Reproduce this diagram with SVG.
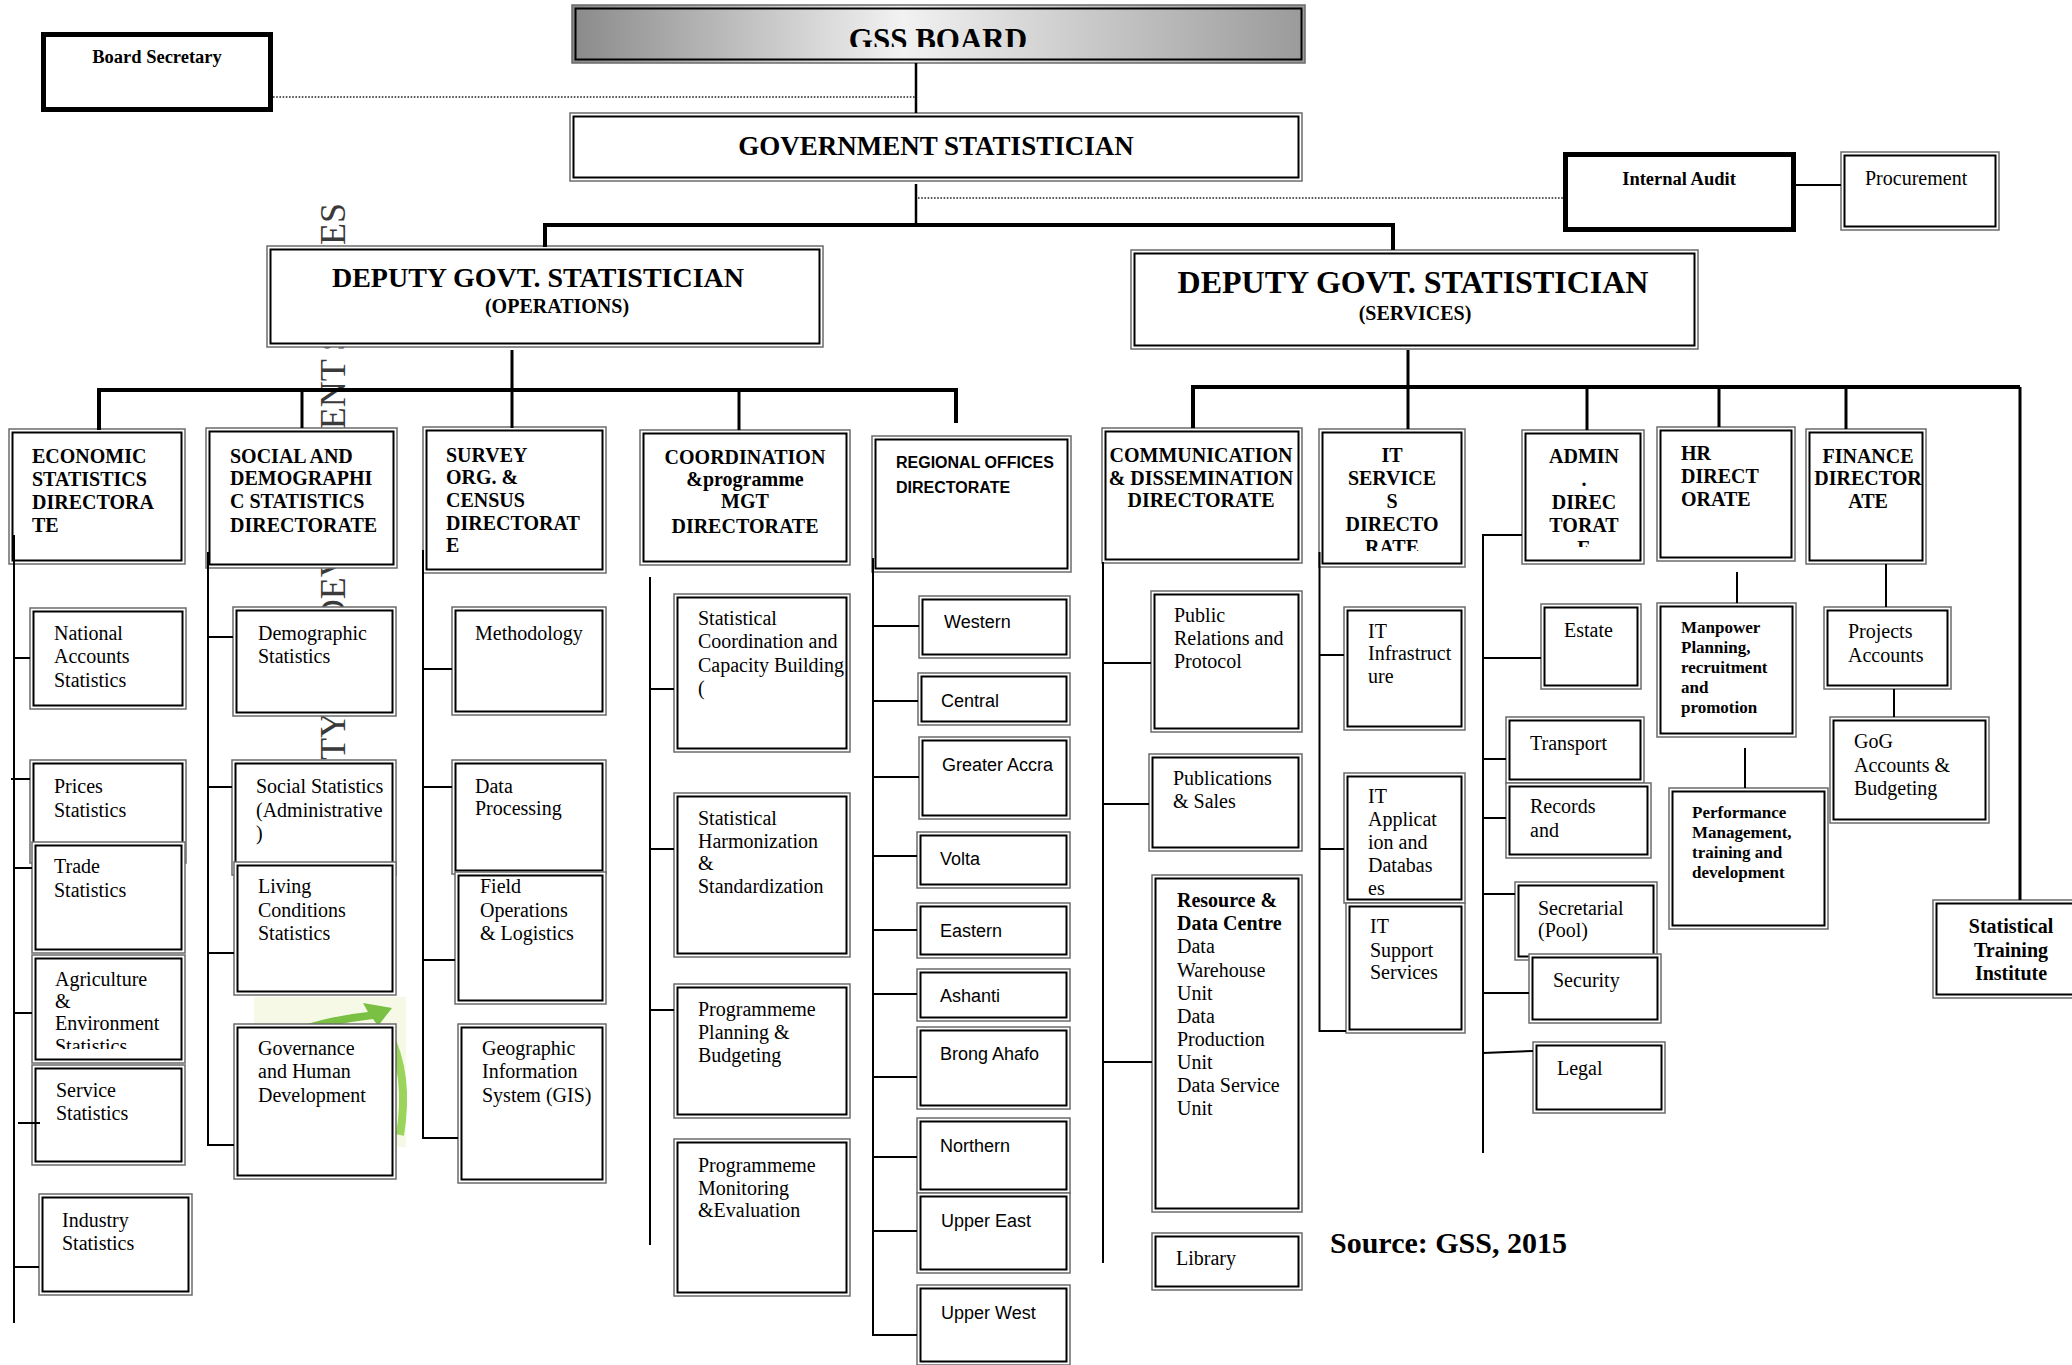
<svg xmlns="http://www.w3.org/2000/svg" width="2072" height="1365" viewBox="0 0 2072 1365">
<defs>
<linearGradient id="gBoard" x1="0" y1="0" x2="1" y2="0">
<stop offset="0" stop-color="#8a8a8a"/>
<stop offset="0.45" stop-color="#f2f2f2"/>
<stop offset="1" stop-color="#9a9a9a"/>
</linearGradient>
<clipPath id="clipBoard"><rect x="572" y="0" width="733" height="47"/></clipPath>
<clipPath id="clipIT"><rect x="1319" y="429" width="146" height="122"/></clipPath>
<clipPath id="clipAdmin"><rect x="1522" y="430" width="122" height="117"/></clipPath>
<clipPath id="clipAgri"><rect x="32" y="955" width="153" height="94"/></clipPath>
<style>
.o{fill:#fff;stroke:#6b6b6b;stroke-width:1.5}
.i{fill:none;stroke:#000;stroke-width:2}
.thick{fill:#fff;stroke:#000;stroke-width:5}
.t{font-family:"Liberation Serif","Times New Roman",serif;font-size:20px;fill:#000}
.b{font-weight:bold}
.s{font-family:"Liberation Sans",Arial,sans-serif;font-size:18px;fill:#000}
.c{text-anchor:middle}
.hr{font-size:17px}
.ln{stroke:#000;stroke-width:2;fill:none}
.bar{stroke:#000;stroke-width:4;fill:none}
.dot{stroke:#222;stroke-width:1.6;stroke-dasharray:1.6 1.6;fill:none}
</style>
</defs>
<rect width="2072" height="1365" fill="#fff"/>

<!-- watermark -->
<g id="watermark">
<text class="t" style="font-size:36px;fill:#3a3a3a;text-anchor:end" transform="translate(345,203) rotate(-90)">UNIVERSITY FOR DEVELOPMENT STUDIES</text>
<rect x="254" y="997" width="152" height="150" fill="#f6f9e6"/>
<path d="M284,1032 Q326,1016 368,1012 L363,1003 L392,1008 L378,1026 L373,1019 Q330,1024 292,1036 Z" fill="#79c043"/>
<path d="M388,1032 Q410,1075 400,1135" stroke="#9bd45a" stroke-width="8" fill="none"/>
</g>

<!-- top level -->
<g id="gss_board">
<rect x="572" y="5" width="733" height="58" fill="url(#gBoard)" stroke="#6b6b6b" stroke-width="1.5"/>
<rect class="i" x="575.5" y="8.5" width="726" height="51"/>
<text class="t b c" x="938" y="50" style="font-size:31px" clip-path="url(#clipBoard)">GSS BOARD</text>
</g>
<g id="board_secretary">
<rect class="thick" x="43.5" y="34.5" width="227" height="75"/>
<text class="t b c" x="157" y="63" style="font-size:18.5px">Board Secretary</text>
</g>
<g id="government_statistician">
<rect class="o" x="570" y="113" width="732" height="68"/>
<rect class="i" x="573.5" y="116.5" width="725" height="61"/>
<text class="t b c" x="936" y="155" style="font-size:27px">GOVERNMENT STATISTICIAN</text>
</g>
<g id="internal_audit">
<rect class="thick" x="1565.5" y="154.5" width="228" height="75"/>
<text class="t b c" x="1679" y="185" style="font-size:18.5px">Internal Audit</text>
</g>
<g id="procurement">
<rect class="o" x="1841" y="152" width="158" height="78"/>
<rect class="i" x="1844.5" y="155.5" width="151" height="71"/>
<text class="t" x="1865" y="185">Procurement</text>
</g>
<g id="deputy_operations">
<rect class="o" x="267" y="246" width="556" height="101"/>
<rect class="i" x="270.5" y="249.5" width="549" height="94"/>
<text class="t b c" x="538" y="287" style="font-size:28px">DEPUTY GOVT. STATISTICIAN</text>
<text class="t b c" x="557" y="313">(OPERATIONS)</text>
</g>
<g id="deputy_services">
<rect class="o" x="1131" y="250" width="567" height="99"/>
<rect class="i" x="1134.5" y="253.5" width="560" height="92"/>
<text class="t b c" x="1413" y="293" style="font-size:32px">DEPUTY GOVT. STATISTICIAN</text>
<text class="t b c" x="1415" y="320">(SERVICES)</text>
</g>

<!-- directorates -->
<g id="economic_dir">
<rect class="o" x="9" y="429" width="176" height="135"/>
<rect class="i" x="12.5" y="432.5" width="169" height="128"/>
<text class="t b"><tspan x="32" y="463">ECONOMIC</tspan><tspan x="32" y="486">STATISTICS</tspan><tspan x="32" y="509">DIRECTORA</tspan><tspan x="32" y="532">TE</tspan></text>
</g>
<g id="social_dir">
<rect class="o" x="206" y="428" width="191" height="140"/>
<rect class="i" x="209.5" y="431.5" width="184" height="133"/>
<text class="t b"><tspan x="230" y="463">SOCIAL AND</tspan><tspan x="230" y="485">DEMOGRAPHI</tspan><tspan x="230" y="508">C STATISTICS</tspan><tspan x="230" y="532">DIRECTORATE</tspan></text>
</g>
<g id="survey_dir">
<rect class="o" x="423" y="427" width="183" height="146"/>
<rect class="i" x="426.5" y="430.5" width="176" height="139"/>
<text class="t b"><tspan x="446" y="462">SURVEY</tspan><tspan x="446" y="484">ORG. &amp;</tspan><tspan x="446" y="507">CENSUS</tspan><tspan x="446" y="530">DIRECTORAT</tspan><tspan x="446" y="552">E</tspan></text>
</g>
<g id="coordination_dir">
<rect class="o" x="640" y="430" width="210" height="135"/>
<rect class="i" x="643.5" y="433.5" width="203" height="128"/>
<text class="t b c"><tspan x="745" y="464">COORDINATION</tspan><tspan x="745" y="486">&amp;programme</tspan><tspan x="745" y="508">MGT</tspan><tspan x="745" y="533">DIRECTORATE</tspan></text>
</g>
<g id="regional_dir">
<rect class="o" x="872" y="436" width="199" height="136"/>
<rect class="i" x="875.5" y="439.5" width="192" height="129"/>
<text class="s b" style="font-size:16px"><tspan x="896" y="468">REGIONAL OFFICES</tspan><tspan x="896" y="493">DIRECTORATE</tspan></text>
</g>
<g id="communication_dir">
<rect class="o" x="1102" y="428" width="200" height="135"/>
<rect class="i" x="1105.5" y="431.5" width="193" height="128"/>
<text class="t b c"><tspan x="1201" y="462">COMMUNICATION</tspan><tspan x="1201" y="485">&amp; DISSEMINATION</tspan><tspan x="1201" y="507">DIRECTORATE</tspan></text>
</g>
<g id="it_dir">
<rect class="o" x="1319" y="429" width="146" height="138"/>
<rect class="i" x="1322.5" y="432.5" width="139" height="131"/>
<text class="t b c" clip-path="url(#clipIT)"><tspan x="1392" y="462">IT</tspan><tspan x="1392" y="485">SERVICE</tspan><tspan x="1392" y="508">S</tspan><tspan x="1392" y="531">DIRECTO</tspan><tspan x="1392" y="554">RATE</tspan></text>
</g>
<g id="admin_dir">
<rect class="o" x="1522" y="430" width="122" height="134"/>
<rect class="i" x="1525.5" y="433.5" width="115" height="127"/>
<text class="t b c" clip-path="url(#clipAdmin)"><tspan x="1584" y="463">ADMIN</tspan><tspan x="1584" y="486">.</tspan><tspan x="1584" y="509">DIREC</tspan><tspan x="1584" y="532">TORAT</tspan><tspan x="1584" y="555">E</tspan></text>
</g>
<g id="hr_dir">
<rect class="o" x="1657" y="427" width="138" height="134"/>
<rect class="i" x="1660.5" y="430.5" width="131" height="127"/>
<text class="t b"><tspan x="1681" y="460">HR</tspan><tspan x="1681" y="483">DIRECT</tspan><tspan x="1681" y="506">ORATE</tspan></text>
</g>
<g id="finance_dir">
<rect class="o" x="1806" y="429" width="120" height="135"/>
<rect class="i" x="1809.5" y="432.5" width="113" height="128"/>
<text class="t b c"><tspan x="1868" y="463">FINANCE</tspan><tspan x="1868" y="485">DIRECTOR</tspan><tspan x="1868" y="508">ATE</tspan></text>
</g>
<g id="statistical_training_institute">
<rect class="o" x="1933" y="900" width="145" height="98"/>
<rect class="i" x="1936.5" y="903.5" width="138" height="91"/>
<text class="t b c"><tspan x="2011" y="933">Statistical</tspan><tspan x="2011" y="957">Training</tspan><tspan x="2011" y="980">Institute</tspan></text>
</g>

<!-- economic units -->
<g id="national_accounts">
<rect class="o" x="30" y="608" width="156" height="101"/>
<rect class="i" x="33.5" y="611.5" width="149" height="94"/>
<text class="t"><tspan x="54" y="640">National</tspan><tspan x="54" y="663">Accounts</tspan><tspan x="54" y="687">Statistics</tspan></text>
</g>
<g id="prices_statistics">
<rect class="o" x="30" y="760" width="156" height="103"/>
<rect class="i" x="33.5" y="763.5" width="149" height="96"/>
<text class="t"><tspan x="54" y="793">Prices</tspan><tspan x="54" y="817">Statistics</tspan></text>
</g>
<g id="trade_statistics">
<rect class="o" x="32" y="842" width="153" height="111"/>
<rect class="i" x="35.5" y="845.5" width="146" height="104"/>
<text class="t"><tspan x="54" y="873">Trade</tspan><tspan x="54" y="897">Statistics</tspan></text>
</g>
<g id="agriculture_environment">
<rect class="o" x="32" y="955" width="153" height="108"/>
<rect class="i" x="35.5" y="958.5" width="146" height="101"/>
<text class="t" clip-path="url(#clipAgri)"><tspan x="55" y="986">Agriculture</tspan><tspan x="55" y="1008">&amp;</tspan><tspan x="55" y="1030">Environment</tspan><tspan x="55" y="1053">Statistics</tspan></text>
</g>
<g id="service_statistics">
<rect class="o" x="32" y="1065" width="153" height="100"/>
<rect class="i" x="35.5" y="1068.5" width="146" height="93"/>
<text class="t"><tspan x="56" y="1097">Service</tspan><tspan x="56" y="1120">Statistics</tspan></text>
</g>
<g id="industry_statistics">
<rect class="o" x="39" y="1194" width="153" height="101"/>
<rect class="i" x="42.5" y="1197.5" width="146" height="94"/>
<text class="t"><tspan x="62" y="1227">Industry</tspan><tspan x="62" y="1250">Statistics</tspan></text>
</g>

<!-- social units -->
<g id="demographic_statistics">
<rect class="o" x="233" y="607" width="163" height="109"/>
<rect class="i" x="236.5" y="610.5" width="156" height="102"/>
<text class="t"><tspan x="258" y="640">Demographic</tspan><tspan x="258" y="663">Statistics</tspan></text>
</g>
<g id="social_statistics">
<rect class="o" x="232" y="760" width="164" height="115"/>
<rect class="i" x="235.5" y="763.5" width="157" height="108"/>
<text class="t"><tspan x="256" y="793">Social Statistics</tspan><tspan x="256" y="817">(Administrative</tspan><tspan x="256" y="840">)</tspan></text>
</g>
<g id="living_conditions">
<rect class="o" x="234" y="862" width="162" height="133"/>
<rect class="i" x="237.5" y="865.5" width="155" height="126"/>
<text class="t"><tspan x="258" y="893">Living</tspan><tspan x="258" y="917">Conditions</tspan><tspan x="258" y="940">Statistics</tspan></text>
</g>
<g id="governance">
<rect class="o" x="234" y="1024" width="162" height="155"/>
<rect class="i" x="237.5" y="1027.5" width="155" height="148"/>
<text class="t"><tspan x="258" y="1055">Governance</tspan><tspan x="258" y="1078">and Human</tspan><tspan x="258" y="1102">Development</tspan></text>
</g>

<!-- survey units -->
<g id="methodology">
<rect class="o" x="452" y="607" width="154" height="108"/>
<rect class="i" x="455.5" y="610.5" width="147" height="101"/>
<text class="t" x="475" y="640">Methodology</text>
</g>
<g id="data_processing">
<rect class="o" x="452" y="760" width="154" height="114"/>
<rect class="i" x="455.5" y="763.5" width="147" height="107"/>
<text class="t"><tspan x="475" y="793">Data</tspan><tspan x="475" y="815">Processing</tspan></text>
</g>
<g id="field_operations">
<rect class="o" x="455" y="872" width="151" height="132"/>
<rect class="i" x="458.5" y="875.5" width="144" height="125"/>
<text class="t"><tspan x="480" y="893">Field</tspan><tspan x="480" y="917">Operations</tspan><tspan x="480" y="940">&amp; Logistics</tspan></text>
</g>
<g id="gis">
<rect class="o" x="458" y="1024" width="148" height="159"/>
<rect class="i" x="461.5" y="1027.5" width="141" height="152"/>
<text class="t"><tspan x="482" y="1055">Geographic</tspan><tspan x="482" y="1078">Information</tspan><tspan x="482" y="1102">System (GIS)</tspan></text>
</g>

<!-- coordination units -->
<g id="stat_coordination">
<rect class="o" x="674" y="594" width="176" height="158"/>
<rect class="i" x="677.5" y="597.5" width="169" height="151"/>
<text class="t"><tspan x="698" y="625">Statistical</tspan><tspan x="698" y="648">Coordination and</tspan><tspan x="698" y="672">Capacity Building</tspan><tspan x="698" y="695">(</tspan></text>
</g>
<g id="stat_harmonization">
<rect class="o" x="674" y="793" width="176" height="164"/>
<rect class="i" x="677.5" y="796.5" width="169" height="157"/>
<text class="t"><tspan x="698" y="825">Statistical</tspan><tspan x="698" y="848">Harmonization</tspan><tspan x="698" y="870">&amp;</tspan><tspan x="698" y="893">Standardization</tspan></text>
</g>
<g id="programme_planning">
<rect class="o" x="674" y="984" width="176" height="134"/>
<rect class="i" x="677.5" y="987.5" width="169" height="127"/>
<text class="t"><tspan x="698" y="1016">Programmeme</tspan><tspan x="698" y="1039">Planning &amp;</tspan><tspan x="698" y="1062">Budgeting</tspan></text>
</g>
<g id="programme_monitoring">
<rect class="o" x="674" y="1139" width="176" height="157"/>
<rect class="i" x="677.5" y="1142.5" width="169" height="150"/>
<text class="t"><tspan x="698" y="1172">Programmeme</tspan><tspan x="698" y="1195">Monitoring</tspan><tspan x="698" y="1217">&amp;Evaluation</tspan></text>
</g>

<!-- regional offices -->
<g id="western"><rect class="o" x="919" y="596" width="151" height="62"/><rect class="i" x="922.5" y="599.5" width="144" height="55"/><text class="s" x="944" y="628">Western</text></g>
<g id="central"><rect class="o" x="918" y="673" width="152" height="52"/><rect class="i" x="921.5" y="676.5" width="145" height="45"/><text class="s" x="941" y="707">Central</text></g>
<g id="greater_accra"><rect class="o" x="919" y="737" width="151" height="82"/><rect class="i" x="922.5" y="740.5" width="144" height="75"/><text class="s" x="942" y="771">Greater Accra</text></g>
<g id="volta"><rect class="o" x="917" y="832" width="153" height="56"/><rect class="i" x="920.5" y="835.5" width="146" height="49"/><text class="s" x="940" y="865">Volta</text></g>
<g id="eastern"><rect class="o" x="917" y="903" width="153" height="55"/><rect class="i" x="920.5" y="906.5" width="146" height="48"/><text class="s" x="940" y="937">Eastern</text></g>
<g id="ashanti"><rect class="o" x="917" y="969" width="153" height="52"/><rect class="i" x="920.5" y="972.5" width="146" height="45"/><text class="s" x="940" y="1002">Ashanti</text></g>
<g id="brong_ahafo"><rect class="o" x="917" y="1027" width="153" height="82"/><rect class="i" x="920.5" y="1030.5" width="146" height="75"/><text class="s" x="940" y="1060">Brong Ahafo</text></g>
<g id="northern"><rect class="o" x="917" y="1118" width="153" height="75"/><rect class="i" x="920.5" y="1121.5" width="146" height="68"/><text class="s" x="940" y="1152">Northern</text></g>
<g id="upper_east"><rect class="o" x="917" y="1193" width="153" height="80"/><rect class="i" x="920.5" y="1196.5" width="146" height="73"/><text class="s" x="941" y="1227">Upper East</text></g>
<g id="upper_west"><rect class="o" x="917" y="1285" width="153" height="80"/><rect class="i" x="920.5" y="1288.5" width="146" height="73"/><text class="s" x="941" y="1319">Upper West</text></g>

<!-- communication units -->
<g id="public_relations">
<rect class="o" x="1151" y="591" width="151" height="141"/>
<rect class="i" x="1154.5" y="594.5" width="144" height="134"/>
<text class="t"><tspan x="1174" y="622">Public</tspan><tspan x="1174" y="645">Relations and</tspan><tspan x="1174" y="668">Protocol</tspan></text>
</g>
<g id="publications_sales">
<rect class="o" x="1149" y="754" width="153" height="97"/>
<rect class="i" x="1152.5" y="757.5" width="146" height="90"/>
<text class="t"><tspan x="1173" y="785">Publications</tspan><tspan x="1173" y="808">&amp; Sales</tspan></text>
</g>
<g id="resource_data_centre">
<rect class="o" x="1152" y="875" width="150" height="337"/>
<rect class="i" x="1155.5" y="878.5" width="143" height="330"/>
<text class="t"><tspan class="b" x="1177" y="907">Resource &amp;</tspan><tspan class="b" x="1177" y="930">Data Centre</tspan><tspan x="1177" y="953">Data</tspan><tspan x="1177" y="977">Warehouse</tspan><tspan x="1177" y="1000">Unit</tspan><tspan x="1177" y="1023">Data</tspan><tspan x="1177" y="1046">Production</tspan><tspan x="1177" y="1069">Unit</tspan><tspan x="1177" y="1092">Data Service</tspan><tspan x="1177" y="1115">Unit</tspan></text>
</g>
<g id="library">
<rect class="o" x="1152" y="1233" width="150" height="57"/>
<rect class="i" x="1155.5" y="1236.5" width="143" height="50"/>
<text class="t" x="1176" y="1265">Library</text>
</g>

<!-- IT units -->
<g id="it_infrastructure">
<rect class="o" x="1344" y="607" width="121" height="123"/>
<rect class="i" x="1347.5" y="610.5" width="114" height="116"/>
<text class="t"><tspan x="1368" y="638">IT</tspan><tspan x="1368" y="660">Infrastruct</tspan><tspan x="1368" y="683">ure</tspan></text>
</g>
<g id="it_applications">
<rect class="o" x="1344" y="773" width="121" height="130"/>
<rect class="i" x="1347.5" y="776.5" width="114" height="123"/>
<text class="t"><tspan x="1368" y="803">IT</tspan><tspan x="1368" y="826">Applicat</tspan><tspan x="1368" y="849">ion and</tspan><tspan x="1368" y="872">Databas</tspan><tspan x="1368" y="895">es</tspan></text>
</g>
<g id="it_support">
<rect class="o" x="1346" y="903" width="119" height="130"/>
<rect class="i" x="1349.5" y="906.5" width="112" height="123"/>
<text class="t"><tspan x="1370" y="933">IT</tspan><tspan x="1370" y="957">Support</tspan><tspan x="1370" y="979">Services</tspan></text>
</g>

<!-- admin units -->
<g id="estate"><rect class="o" x="1541" y="604" width="100" height="85"/><rect class="i" x="1544.5" y="607.5" width="93" height="78"/><text class="t" x="1564" y="637">Estate</text></g>
<g id="transport"><rect class="o" x="1506" y="717" width="138" height="66"/><rect class="i" x="1509.5" y="720.5" width="131" height="59"/><text class="t" x="1530" y="750">Transport</text></g>
<g id="records"><rect class="o" x="1506" y="783" width="145" height="75"/><rect class="i" x="1509.5" y="786.5" width="138" height="68"/><text class="t"><tspan x="1530" y="813">Records</tspan><tspan x="1530" y="837">and</tspan></text></g>
<g id="secretarial"><rect class="o" x="1515" y="882" width="142" height="78"/><rect class="i" x="1518.5" y="885.5" width="135" height="71"/><text class="t"><tspan x="1538" y="915">Secretarial</tspan><tspan x="1538" y="937">(Pool)</tspan></text></g>
<g id="security"><rect class="o" x="1529" y="954" width="132" height="69"/><rect class="i" x="1532.5" y="957.5" width="125" height="62"/><text class="t" x="1553" y="987">Security</text></g>
<g id="legal"><rect class="o" x="1533" y="1042" width="132" height="71"/><rect class="i" x="1536.5" y="1045.5" width="125" height="64"/><text class="t" x="1557" y="1075">Legal</text></g>

<!-- HR units -->
<g id="manpower_planning">
<rect class="o" x="1657" y="603" width="139" height="134"/>
<rect class="i" x="1660.5" y="606.5" width="132" height="127"/>
<text class="t b hr"><tspan x="1681" y="633">Manpower</tspan><tspan x="1681" y="653">Planning,</tspan><tspan x="1681" y="673">recruitment</tspan><tspan x="1681" y="693">and</tspan><tspan x="1681" y="713">promotion</tspan></text>
</g>
<g id="performance_management">
<rect class="o" x="1669" y="788" width="159" height="141"/>
<rect class="i" x="1672.5" y="791.5" width="152" height="134"/>
<text class="t b hr"><tspan x="1692" y="818">Performance</tspan><tspan x="1692" y="838">Management,</tspan><tspan x="1692" y="858">training and</tspan><tspan x="1692" y="878">development</tspan></text>
</g>

<!-- finance units -->
<g id="projects_accounts">
<rect class="o" x="1824" y="607" width="127" height="82"/>
<rect class="i" x="1827.5" y="610.5" width="120" height="75"/>
<text class="t"><tspan x="1848" y="638">Projects</tspan><tspan x="1848" y="662">Accounts</tspan></text>
</g>
<g id="gog_accounts">
<rect class="o" x="1830" y="717" width="159" height="106"/>
<rect class="i" x="1833.5" y="720.5" width="152" height="99"/>
<text class="t"><tspan x="1854" y="748">GoG</tspan><tspan x="1854" y="772">Accounts &amp;</tspan><tspan x="1854" y="795">Budgeting</tspan></text>
</g>

<text id="source" class="t b" x="1330" y="1253" style="font-size:30px">Source: GSS, 2015</text>

<!-- connectors -->
<g id="connectors">
<line class="ln" x1="916" y1="63" x2="916" y2="113" style="stroke-width:2.5"/>
<line class="dot" x1="273" y1="97" x2="915" y2="97"/>
<line class="ln" x1="916" y1="184" x2="916" y2="224" style="stroke-width:2.5"/>
<line class="dot" x1="918" y1="198" x2="1563" y2="198"/>
<line class="ln" x1="1796" y1="185" x2="1841" y2="185"/>
<path class="bar" d="M545,247 V225 H1393 V250"/>

<line class="ln" x1="512" y1="350" x2="512" y2="428" style="stroke-width:3"/>
<path class="bar" d="M99,430 V390 H956 V423"/>
<line class="ln" x1="302" y1="390" x2="302" y2="428" style="stroke-width:3"/>
<line class="ln" x1="739" y1="390" x2="739" y2="430" style="stroke-width:3"/>

<line class="ln" x1="1408" y1="350" x2="1408" y2="429" style="stroke-width:3"/>
<path class="bar" d="M1193,428 V387 H2020"/>
<line class="ln" x1="2020" y1="387" x2="2020" y2="900" style="stroke-width:3"/>
<line class="ln" x1="1587" y1="387" x2="1587" y2="430" style="stroke-width:3"/>
<line class="ln" x1="1719" y1="387" x2="1719" y2="427" style="stroke-width:3"/>
<line class="ln" x1="1846" y1="387" x2="1846" y2="429" style="stroke-width:3"/>

<path class="ln" d="M14,535 V1323"/>
<path class="ln" d="M14,658 H30 M11,779 H30 M14,868 H32 M14,1013 H32 M18,1123 H40 M15,1267 H39"/>
<path class="ln" d="M208,552 V1145 H234"/>
<path class="ln" d="M208,637 H233 M208,787 H232 M208,953 H234"/>
<path class="ln" d="M423,550 V1138 H458"/>
<path class="ln" d="M423,669 H452 M423,787 H452 M423,960 H455"/>
<path class="ln" d="M650,577 V1245"/>
<path class="ln" d="M650,689 H674 M650,849 H674 M650,1010 H674"/>
<path class="ln" d="M873,558 V1335 H917"/>
<path class="ln" d="M873,626 H919 M873,701 H918 M873,777 H919 M873,856 H917 M873,930 H917 M873,994 H917 M873,1077 H917 M873,1157 H917 M873,1231 H917"/>
<path class="ln" d="M1103,562 V1263"/>
<path class="ln" d="M1103,663 H1151 M1103,804 H1149 M1103,1062 H1152"/>
<path class="ln" d="M1319.5,552 V1031 H1346"/>
<path class="ln" d="M1319.5,655 H1344 M1319.5,849 H1344"/>
<path class="ln" d="M1522,535 H1483 V1153"/>
<path class="ln" d="M1483,658 H1541 M1483,759 H1506 M1483,818 H1506 M1483,894 H1515 M1483,993 H1529 M1483,1053 L1533,1051"/>
<path class="ln" d="M1737,572 V603 M1745,748 V788"/>
<path class="ln" d="M1886,564 V607 M1894,689 V717"/>
</g>
</svg>
